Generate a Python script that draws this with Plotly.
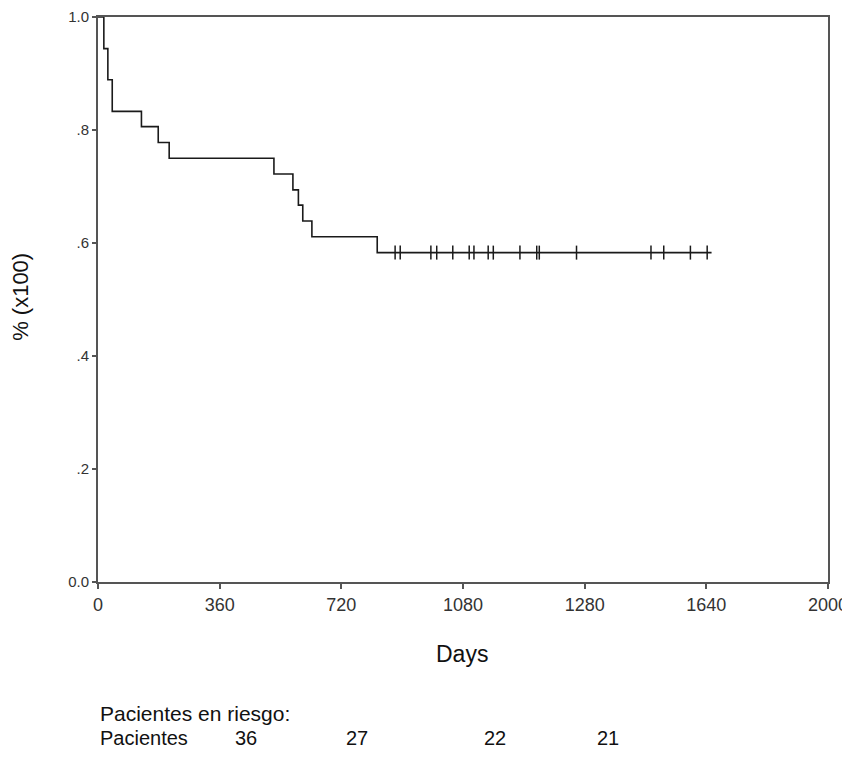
import numpy as np
import plotly.graph_objects as go

# Kaplan-Meier step data (days, survival proportion)
event_times = [0, 16, 27, 39, 119, 165, 195, 482, 534, 549, 561, 586, 765]
survival = [1.0, 0.944, 0.889, 0.833, 0.806, 0.778, 0.750, 0.722, 0.694, 0.667, 0.639, 0.611, 0.583]
censor_times = [814, 828, 912, 928, 972, 1017, 1030, 1069, 1083, 1156, 1202, 1209,
                1311, 1515, 1550, 1623, 1669]
last_followup = 1681

x_tick_labels = ["0", "360", "720", "1080", "1280", "1640", "2000"]
y_tick_vals = [0.0, 0.2, 0.4, 0.6, 0.8, 1.0]
y_tick_labels = ["0.0", ".2", ".4", ".6", ".8", "1.0"]

at_risk_label = "Pacientes"
at_risk = [36, 27, 22, 21]
at_risk_x = [406, 710, 1088, 1397]   # positions (days axis) of the at-risk counts

X_MAX = 2000
x_tick_vals = list(np.linspace(0, X_MAX, len(x_tick_labels)))

step_x = event_times + [last_followup]
step_y = survival + [survival[-1]]

idx = np.searchsorted(np.array(event_times), np.array(censor_times), side="right") - 1
censor_y = [survival[i] for i in idx]

FONT = "Liberation Sans, Arial, sans-serif"
INK = "#1a1a1a"
FRAME = "#555555"

fig = go.Figure()
fig.add_trace(go.Scatter(
    x=step_x, y=step_y, mode="lines", line=dict(shape="hv", color=INK, width=1.6),
    hoverinfo="skip", showlegend=False, cliponaxis=False))
fig.add_trace(go.Scatter(
    x=censor_times, y=censor_y, mode="markers",
    marker=dict(symbol="line-ns", size=10, line=dict(color=INK, width=1.5)),
    showlegend=False, cliponaxis=False))

# page has an 8px body margin: figure placed at (8, 8), sized so the page does not scroll
fig.update_layout(
    width=842, height=744,
    margin=dict(l=90, r=22, t=9, b=170, autoexpand=False),
    paper_bgcolor="white", plot_bgcolor="white",
    font=dict(family=FONT, color="#222222"),
    xaxis=dict(range=[0, X_MAX], tickvals=x_tick_vals, ticktext=x_tick_labels,
               automargin=False, ticklabeloverflow="allow",
               showgrid=False, zeroline=False, showline=True, linecolor=FRAME, linewidth=2,
               mirror=True, ticks="outside", ticklen=5, tickcolor=FRAME, tickwidth=1.5,
               tickfont=dict(size=18, family=FONT, color="#333333")),
    yaxis=dict(range=[0, 1], tickvals=y_tick_vals, ticktext=y_tick_labels,
               automargin=False, ticklabeloverflow="allow",
               showgrid=False, zeroline=False, showline=True, linecolor=FRAME, linewidth=2,
               mirror=True, ticks="outside", ticklen=4, tickcolor=FRAME, tickwidth=1.5,
               tickfont=dict(size=15, family=FONT, color="#333333")),
)

annotations = [
    dict(text="% (x100)", xref="paper", yref="paper", x=-0.106, y=0.504, textangle=-90,
         showarrow=False, font=dict(size=22, family=FONT, color="#111111"),
         xanchor="center", yanchor="middle"),
    dict(text="Days", xref="paper", yref="paper", x=0.499, y=-0.1274, showarrow=False,
         font=dict(size=23, family=FONT, color="#111111"), xanchor="center", yanchor="middle"),
    dict(text="Pacientes en riesgo:", xref="paper", yref="paper", x=0.0, y=-0.2319,
         showarrow=False, font=dict(size=21, family=FONT, color="#111111"),
         xanchor="left", yanchor="middle"),
    dict(text=at_risk_label, xref="paper", yref="paper", x=0.0, y=-0.2761,
         showarrow=False, font=dict(size=20, family=FONT, color="#111111"),
         xanchor="left", yanchor="middle"),
]
for xv, n in zip(at_risk_x, at_risk):
    annotations.append(dict(text=str(n), xref="x", yref="paper", x=xv, y=-0.2761,
                            showarrow=False, font=dict(size=20, family=FONT, color="#111111"),
                            xanchor="center", yanchor="middle"))
fig.update_layout(annotations=annotations)

fig.write_html("out.html")
